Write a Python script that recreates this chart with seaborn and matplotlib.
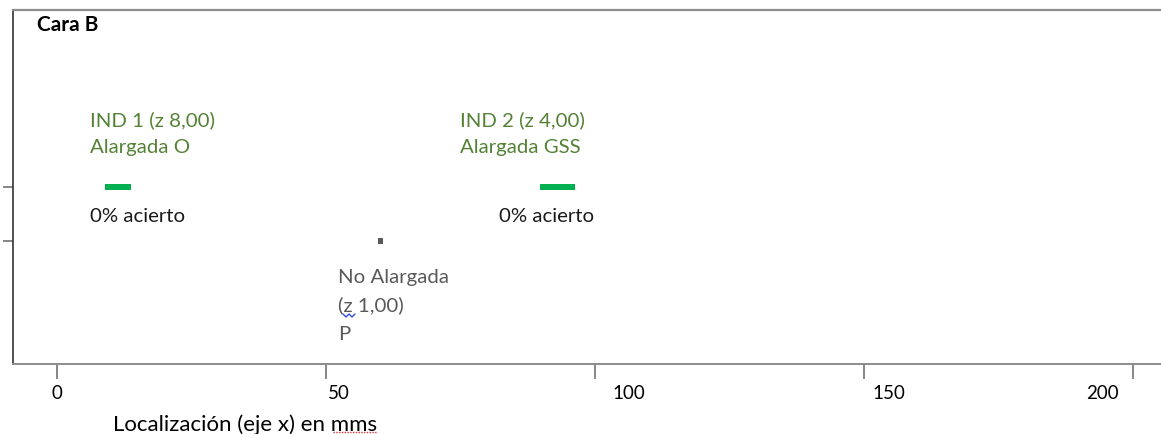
import matplotlib
matplotlib.use("Agg")
import matplotlib.pyplot as plt
import matplotlib.transforms as mtransforms
from matplotlib.lines import Line2D
import seaborn as sns
import pandas as pd

# ---- data ----
ind_names = ["IND 1", "IND 2"]
ind_x_start = [8.9, 89.8]
ind_x_end = [13.8, 96.3]
ind_y = [2, 2]
ind_labels = ["IND 1 (z 8,00)", "IND 2 (z 4,00)"]
ind_sublabels = ["Alargada O", "Alargada GSS"]
ind_acierto = ["0% acierto", "0% acierto"]

point_x = [60.2]
point_y = [1]
point_lines = ["No Alargada", "(z 1,00)", "P"]

x_ticks = [0, 50, 100, 150, 200]
x_ticklabels = ["0", "50", "100", "150", "200"]
y_ticks = [1, 2]
title_text = "Cara B"
xlabel_text = "Localización (eje x) en mms"

# ---- style ----
sns.set_theme(style="white")
plt.rcParams["font.family"] = ["Lato", "DejaVu Sans"]

W, H = 1161, 434
fig = plt.figure(figsize=(W / 100, H / 100), dpi=100)
ax = fig.add_axes([13 / W, (H - 364) / H, (W - 13) / W, (364 - 10) / H])

green_text = "#548235"
green_bar = "#00B050"
grey = "#595959"
axis_grey = "#8C8C8C"

# segments
ax.hlines(ind_y, ind_x_start, ind_x_end, color=green_bar, linewidth=4.3)

# point
df_pt = pd.DataFrame({"x": point_x, "y": point_y})
sns.scatterplot(data=df_pt, x="x", y="y", ax=ax, marker="s", s=14,
                color=grey, edgecolor="none", legend=False)

px_per_unit = (1133 - 57) / 200.0
def dx(px):
    return (px - 57) / px_per_unit
def dy(py):
    return 1 + (241 - py) / 54.0

ax.set_xlim(dx(13), dx(W))
ax.set_ylim(dy(364), dy(10))

fs = 14.7
# IND labels
label_px = [90, 460]
ac_px = [90, 499]
for i in range(len(ind_names)):
    ax.text(dx(label_px[i]), dy(120), ind_labels[i], color=green_text,
            fontsize=fs, ha="left", va="center")
    ax.text(dx(label_px[i]), dy(147), ind_sublabels[i], color=green_text,
            fontsize=fs, ha="left", va="center")
    ax.text(dx(ac_px[i]), dy(217), ind_acierto[i], color="#1a1a1a",
            fontsize=fs, ha="left", va="center")

for line, py in zip(point_lines, [278, 305, 335]):
    ax.text(dx(338), dy(py), line, color=grey, fontsize=fs, ha="left", va="center")

ax.text((37 - 13) / (W - 13), (364 - 25) / (364 - 10), title_text,
        transform=ax.transAxes, fontsize=15, fontweight="bold",
        color="black", ha="left", va="center")

# spines
ax.spines["right"].set_visible(False)
ax.spines["top"].set_color(axis_grey)
ax.spines["top"].set_linewidth(1.6)
ax.spines["bottom"].set_color(axis_grey)
ax.spines["bottom"].set_linewidth(1.4)
ax.spines["left"].set_color("#333333")
ax.spines["left"].set_linewidth(1.2)

ax.set_xticks(x_ticks)
ax.set_xticklabels(x_ticklabels)
ax.set_yticks(y_ticks)
ax.set_yticklabels([])
ax.tick_params(axis="x", direction="out", length=11, width=1.1, color="#666666",
               labelsize=13.5, labelcolor="black", pad=4, bottom=True)
ax.tick_params(axis="y", direction="out", length=7, width=1.1, color="#666666",
               left=True)

label_offsets = [0, 13, 34, 25, -31]
for lab, off in zip(ax.get_xticklabels(), label_offsets):
    lab.set_transform(lab.get_transform() +
                      mtransforms.ScaledTranslation(off / 100, 0, fig.dpi_scale_trans))

ax.set_xlabel("")
ax.set_ylabel("")
fig.text(113 / W, 1 - 425 / H, xlabel_text, fontsize=16, color="black",
         ha="left", va="center")

# spell-check underlines (decorative)
fig.add_artist(Line2D([333 / W, 377 / W], [1 - 432 / H, 1 - 432 / H],
                      transform=fig.transFigure, color="#E03030",
                      linewidth=1.0, linestyle=(0, (1, 1))))
fig.add_artist(Line2D([343 / W, 346 / W, 349 / W, 352 / W, 355 / W],
                      [1 - 314 / H, 1 - 317 / H, 1 - 314 / H, 1 - 317 / H, 1 - 314 / H],
                      transform=fig.transFigure, color="#3050E0", linewidth=1.0))

fig.savefig("out.png", dpi=100)
